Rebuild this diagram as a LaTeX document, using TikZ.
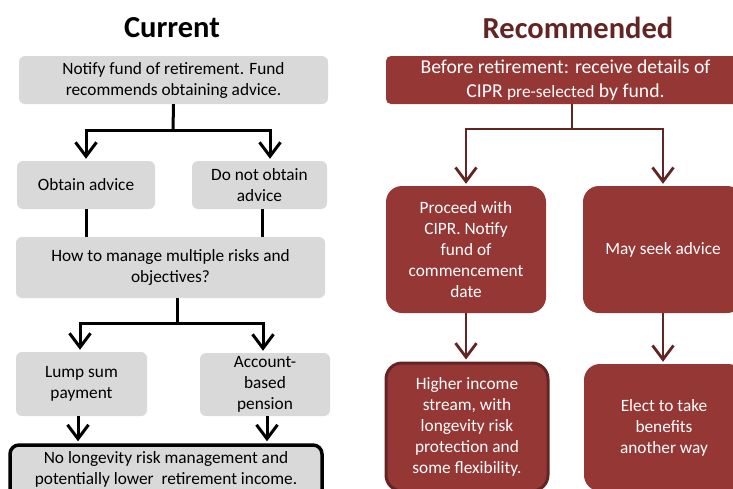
\documentclass[tikz,border=0pt]{standalone}
\usepackage{fontspec}
\setmainfont{Carlito}
\usetikzlibrary{arrows.meta,calc}
\definecolor{boxgray}{HTML}{D9D9D9}
\definecolor{boxred}{HTML}{953735}
\definecolor{darkred}{HTML}{632523}
\begin{document}
\begin{tikzpicture}[x=1pt,y=-1pt,
  txt/.style={font=\fontsize{17.3}{21}\selectfont, align=center, inner sep=0pt},
  gbox/.style={txt, fill=boxgray, rounded corners=6pt},
  rbox/.style={txt, fill=boxred, text=white, rounded corners=16pt},
  ttl/.style={font=\bfseries\fontsize{30.5}{36}\selectfont},
  conn/.style={line width=3pt, black},
  arr/.style={conn, -{Straight Barb[length=14pt,width=21pt,line width=3pt]}, shorten >=2pt},
  rconn/.style={line width=2.8pt, darkred},
  rarr/.style={rconn, -{Straight Barb[length=14pt,width=21pt,line width=2.8pt]}, shorten >=2pt}]
\useasboundingbox (0,0) rectangle (733,488);
\clip (0,0) rectangle (733,488);

% ---------- Current ----------
\node[ttl] (t1) at (172,28) {Current};
\node[gbox, minimum width=309, minimum height=48] (b1) at (173.5,80)
  {Notify fund of retirement. Fund\\recommends obtaining advice.};
\node[gbox, minimum width=138, minimum height=48] (b2) at (86,185) {Obtain advice};
\node[gbox, minimum width=135, minimum height=48] (b3) at (259.5,185) {Do not obtain\\advice};
\node[gbox, minimum width=309, minimum height=61] (b4) at (170.5,267.5)
  {How to manage multiple risks and\\objectives?};
\node[gbox, minimum width=131, minimum height=64] (b5) at (81.5,384) {Lump sum\\payment};
\node[gbox, minimum width=130, minimum height=63] (b6) at (265,384.5) {Account-\\based\\pension};
\node[gbox, draw=black, line width=3.5pt, rounded corners=9pt, minimum width=312,
      minimum height=60, inner ysep=0pt] (b7) at (166,475) {};
\node[txt, anchor=north] (b7t) at (166,451)
  {No longevity risk management and\\potentially lower\ \ retirement income.};

\coordinate (j1) at (173,130);
\draw[conn] (b1.south) -- (j1);
\draw[arr] (j1) -| (b2.north);
\coordinate (b3in) at ($(b3.north)+(10.5,0)$);
\draw[arr] (j1) -| (b3in);
\draw[conn] (b2.south) -- (b2.south |- b4.north);
\coordinate (b3out) at ($(b3.south)+(2.5,0)$);
\draw[conn] (b3out) -- (b3out |- b4.north);
\coordinate (b4out) at ($(b4.south)+(6.5,0)$);
\coordinate (j2) at (177,323);
\draw[conn] (b4out) -- (j2);
\coordinate (b5in) at ($(b5.north)+(-1.5,0)$);
\coordinate (b6in) at ($(b6.north)+(-2,0)$);
\draw[arr] (j2) -| (b5in);
\draw[arr] (j2) -| (b6in);
\coordinate (b5out) at ($(b5.south)+(-3.5,0)$);
\coordinate (b6out) at ($(b6.south)+(2,0)$);
\draw[arr] (b5out) -- (b5out |- b7.north);
\draw[arr] (b6out) -- (b6out |- b7.north);

% ---------- Recommended ----------
\node[ttl, text=darkred] (t2) at (578,28) {Recommended};
\node[rbox, rounded corners=5pt, minimum width=359, minimum height=48,
      font=\fontsize{19.7}{24}\selectfont] (r1) at (565.5,80)
  {Before retirement: receive details of\\CIPR {\fontsize{17.3}{24}\selectfont pre-selected} by fund.};
\node[rbox, minimum width=160, minimum height=127] (r2) at (466,249.5)
  {Proceed with\\CIPR. Notify\\fund of\\commencement\\date};
\node[rbox, minimum width=160, minimum height=127] (r3) at (663,249.5) {May seek advice};
\node[rbox, draw=darkred, line width=3pt, minimum width=162, minimum height=128] (r4) at (467,427)
  {Higher income\\stream, with\\longevity risk\\protection and\\some flexibility.};
\node[rbox, minimum width=160, minimum height=127] (r5) at (664,427.5)
  {Elect to take\\benefits\\another way};

\coordinate (r1out) at ($(r1.south)+(6.5,0)$);
\coordinate (j3) at (572,129);
\draw[rconn] (r1out) -- (j3);
\draw[rarr] (j3) -| (r2.north);
\draw[rarr] (j3) -| (r3.north);
\draw[rarr] (r2.south) -- (r2.south |- r4.north);
\draw[rarr] (r3.south) -- (r3.south |- r5.north);
\end{tikzpicture}
\end{document}
